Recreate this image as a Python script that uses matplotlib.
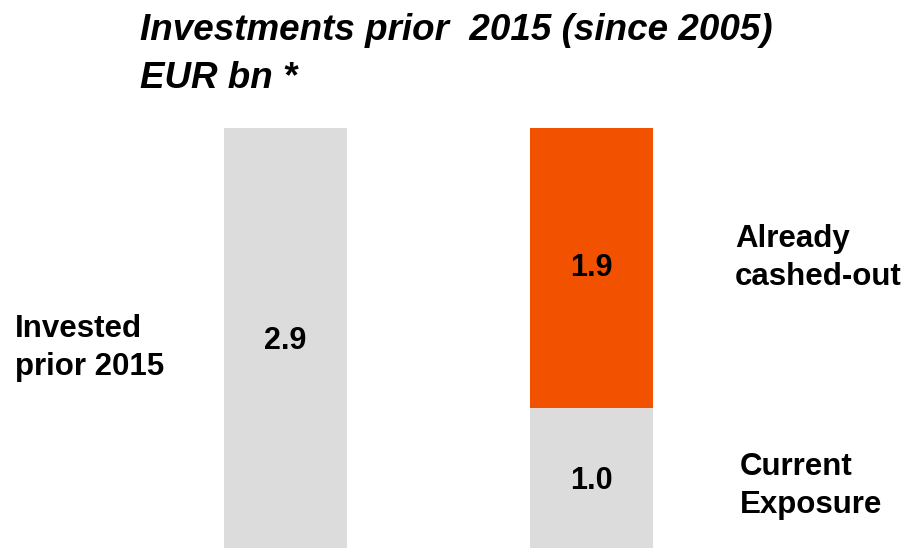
import matplotlib
matplotlib.use("Agg")
import matplotlib.pyplot as plt

plt.rcParams['font.family'] = ['Liberation Sans Narrow', 'Liberation Sans', 'DejaVu Sans']

# Data
columns = ["Invested prior 2015", "Split"]
invested_total = 2.9
current_exposure = 1.0
cashed_out = 1.9

GRAY = "#DCDCDC"
ORANGE = "#F25100"

W, H = 914, 548
fig = plt.figure(figsize=(W / 100, H / 100), dpi=100)
ax = fig.add_axes([0, 0, 1, 1])
ax.set_axis_off()

bar_w = 0.402
x = [0, 1]
ax.bar(x[0], invested_total, width=bar_w, color=GRAY)
ax.bar(x[1], current_exposure, width=bar_w, color=GRAY)
ax.bar(x[1], cashed_out, bottom=current_exposure, width=bar_w, color=ORANGE)

ax.set_xlim(-0.933, 2.054)
ax.set_ylim(0.0475, 3.765)

val_kw = dict(ha='center', va='center', fontsize=22, fontweight='bold',
              family=['Liberation Sans', 'DejaVu Sans'])
ax.text(x[0], invested_total / 2, f"{invested_total:.1f}", **val_kw)
ax.text(x[1], current_exposure / 2, f"{current_exposure:.1f}", **val_kw)
ax.text(x[1], current_exposure + cashed_out / 2, f"{cashed_out:.1f}", **val_kw)

# Titles
title_kw = dict(ha='left', va='baseline', fontsize=26.5, fontweight='bold',
                fontstyle='italic')
fig.text(140 / W, 1 - 40 / H, "Investments prior  2015 (since 2005)", **title_kw)
fig.text(140 / W, 1 - 88 / H, "EUR bn *", **title_kw)

# Side labels
lab_kw = dict(ha='left', va='center', fontsize=22.5, fontweight='bold',
              linespacing=1.38, family=['Liberation Sans', 'DejaVu Sans'])
fig.text(15 / W, 1 - 348 / H, "Invested\nprior 2015", **lab_kw)
fig.text(735 / W, 1 - 258 / H, "Already\ncashed-out", **lab_kw)
fig.text(740 / W, 1 - 486 / H, "Current\nExposure", **lab_kw)

fig.savefig("out.png", dpi=100)
